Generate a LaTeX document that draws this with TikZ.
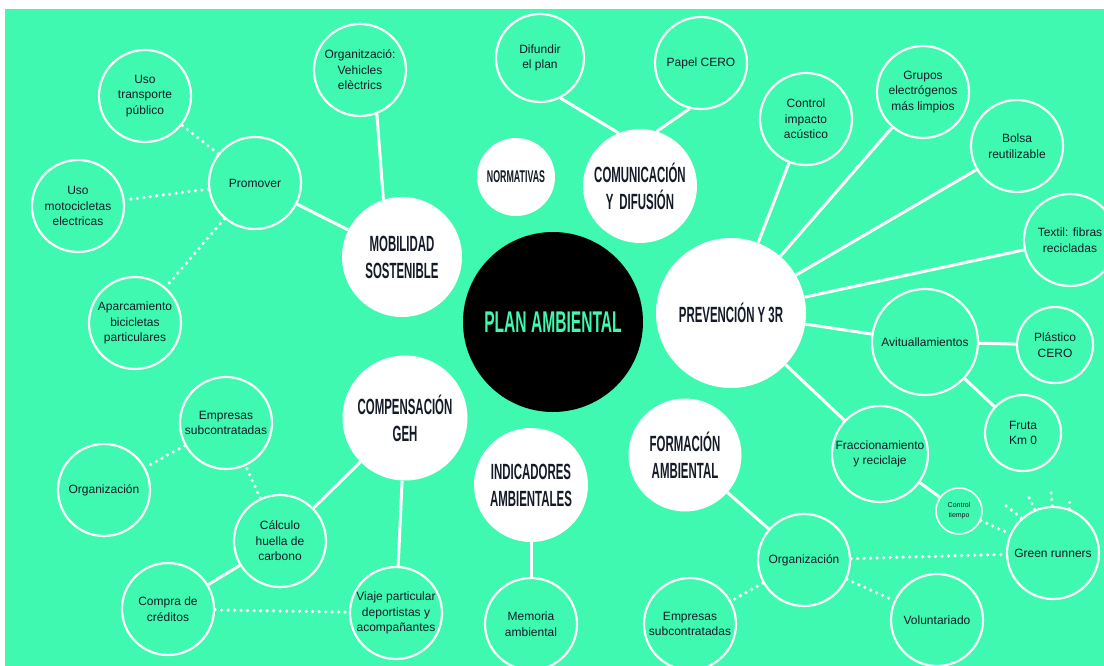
\documentclass[tikz,border=0pt]{standalone}
\usepackage{fontspec}
\setmainfont{Liberation Sans}
\newfontfamily\headfont[FakeStretch=0.52,UprightFont={* Bold}]{Liberation Sans}
\definecolor{mint}{RGB}{64,249,176}
\definecolor{ink}{RGB}{20,26,38}
\begin{document}
\begin{tikzpicture}[x=1pt,y=-1pt,
  hub/.style={circle,fill=black,inner sep=0pt,minimum size=180,text=mint,
    font=\headfont\fontsize{30}{32}\selectfont},
  topic/.style={circle,fill=white,inner sep=0pt,align=center,text=ink,
    font=\headfont\fontsize{22}{27}\selectfont},
  leaf/.style={circle,draw=white,line width=2.2pt,fill=mint,inner sep=0pt,
    minimum size=92,align=center,text=ink,font=\fontsize{12}{15.5}\selectfont},
  link/.style={draw=white,line width=3pt},
  dots/.style={draw=white,line width=3.6pt,line cap=round,dash pattern=on 0pt off 6.5pt}]
\useasboundingbox[fill=white](0,0) rectangle (1104,666);
\begin{scope}
\clip(5,9) rectangle (1104,666);
\fill[mint](5,9) rectangle (1104,666);

% centre and main topics
\node[hub] (plan) at (553,322) {PLAN AMBIENTAL};
\node[topic,minimum size=120] (mob) at (402,257) {MOBILIDAD\\SOSTENIBLE};
\node[topic,minimum size=114] (com) at (640,186) {COMUNICACIÓN\\Y\hspace{6pt}DIFUSIÓN};
\node[topic,minimum size=78,font=\headfont\fontsize{17}{19}\selectfont] (norm) at (516,177) {NORMATIVAS};
\node[topic,minimum size=150] (prev) at (731,313) {PREVENCIÓN Y 3R};
\node[topic,minimum size=125] (comp) at (405,418) {COMPENSACIÓN\\GEH};
\node[topic,minimum size=114] (ind) at (531,485) {INDICADORES\\AMBIENTALES};
\node[topic,minimum size=113] (form) at (685,455) {FORMACIÓN\\AMBIENTAL};

% movilidad
\node[leaf] (orgv) at (360,70) {Organització:\\Vehicles\\elèctrics};
\node[leaf] (prom) at (255,183) {Promover};
\node[leaf] (tpub) at (145,96) {Uso\\transporte\\público};
\node[leaf] (moto) at (78,206) {Uso\\motocicletas\\electricas};
\node[leaf] (bici) at (135,323) {Aparcamiento\\bicicletas\\particulares};

% comunicacion
\node[leaf,minimum size=88] (difu) at (540,58) {Difundir\\el plan};
\node[leaf] (papel) at (701,63) {Papel CERO};

% prevencion
\node[leaf] (acus) at (806,119) {Control\\impacto\\acústico};
\node[leaf] (grup) at (923,92) {Grupos\\electrógenos\\más limpios};
\node[leaf] (bolsa) at (1017,146) {Bolsa\\reutilizable};
\node[leaf] (text) at (1070,240) {Textil: fibras\\recicladas};
\node[leaf,minimum size=106] (avit) at (925,342) {Avituallamientos};
\node[leaf,minimum size=76] (plas) at (1055,345) {Plástico\\CERO};
\node[leaf,minimum size=76] (fruta) at (1023,433) {Fruta\\Km 0};
\node[leaf,minimum size=96] (frac) at (880,454) {Fraccionamiento\\y reciclaje};
\node[leaf,minimum size=46,line width=1.6pt,font=\fontsize{7}{10}\selectfont] (ctemp) at (959,511) {Control\\tiempo};
\node[leaf] (green) at (1053,553) {Green runners};

% formacion
\node[leaf] (orgf) at (804,560) {Organización};
\node[leaf] (volu) at (937,620) {Voluntariado};
\node[leaf] (empf) at (690,624) {Empresas\\subcontratadas};

% indicadores
\node[leaf] (memo) at (531,624) {Memoria\\ambiental};

% compensacion
\node[leaf] (calc) at (280,541) {Cálculo\\huella de\\carbono};
\node[leaf] (empc) at (226,423) {Empresas\\subcontratadas};
\node[leaf] (orgc) at (104,490) {Organización};
\node[leaf] (cred) at (168,609) {Compra de\\créditos};
\node[leaf] (viaje) at (396,613) {Viaje particular\\deportistas y\\acompañantes};

% solid links
\draw[link](mob.108)--(orgv.-69);
\draw[link](mob)--(prom);
\draw[link](com.112)--(difu.-63);
\draw[link](com.73)--(papel.-104);
\draw[link](prev)--(acus);
\draw[link](prev)--(grup);
\draw[link](prev)--(bolsa);
\draw[link](prev)--(text);
\draw[link](prev)--(avit);
\draw[link](prev)--(frac);
\draw[link](avit)--(plas);
\draw[link](avit)--(fruta);
\draw[link](frac)--(ctemp);
\draw[link](comp)--(calc);
\draw[link](comp)--(viaje);
\draw[link](calc)--(cred);
\draw[link](ind)--(memo);
\draw[link](form)--(orgf);

% dotted links
\draw[dots](prom)--(tpub);
\draw[dots](prom)--(moto);
\draw[dots](prom)--(bici);
\draw[dots](calc)--(empc);
\draw[dots](empc)--(orgc);
\draw[dots](cred)--(viaje);
\draw[dots](ctemp)--(green);
\draw[dots](orgf)--(green);
\draw[dots](orgf)--(volu);
\draw[dots](orgf)--(empf);

% little rays over green runners
\coordinate (ray1) at (1001,502);
\coordinate (ray2) at (1027,493);
\coordinate (ray3) at (1051,492);
\coordinate (ray4) at (1070,498);
\draw[dots](green.132)--(ray1);
\draw[dots](green.113)--(ray2);
\draw[dots](green.91)--(ray3);
\draw[dots](green.70)--(ray4);
\end{scope}
\end{tikzpicture}
\end{document}
